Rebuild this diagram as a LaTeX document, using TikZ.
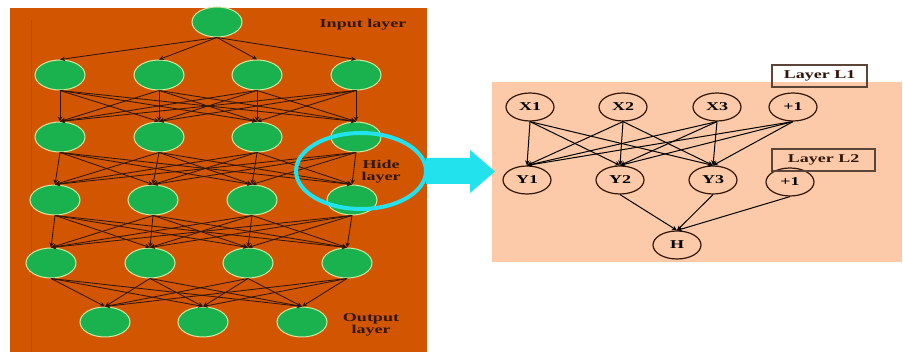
\documentclass[tikz,border=0pt]{standalone}
\usepackage{fontspec}
\setmainfont{Liberation Serif}
\usetikzlibrary{shapes.geometric,arrows.meta}
\definecolor{burnt}{RGB}{210,86,2}
\definecolor{leaf}{RGB}{26,178,78}
\definecolor{pale}{RGB}{210,232,160}
\definecolor{peach}{RGB}{252,202,168}
\definecolor{aqua}{RGB}{34,226,238}
\definecolor{ink}{RGB}{50,22,8}
\newcommand\wide[1]{\scalebox{1.5}[1]{#1}}
\tikzset{
  gnode/.style={ellipse,fill=leaf,draw=pale,line width=1pt,minimum width=50pt,minimum height=30pt,inner sep=0pt},
  wnode/.style={ellipse,draw=ink,line width=1.2pt,minimum width=48pt,minimum height=28pt,inner sep=0pt,font=\bfseries\fontsize{12}{13}\selectfont},
  lbl/.style={font=\bfseries\fontsize{12}{13}\selectfont,text=ink,align=center,inner sep=0pt},
  link/.style={draw=ink,line width=0.85pt,-{Stealth[length=5pt,width=4.5pt]}},
  boxlbl/.style={draw=ink!80,line width=1.2pt,font=\bfseries\fontsize{12}{13}\selectfont,text=ink,inner sep=0pt,minimum height=22pt}
}
\begin{document}
\begin{tikzpicture}[x=1pt,y=-1pt]
\useasboundingbox (0,0) rectangle (903,352);
% panels
\fill[burnt] (10,8) rectangle (427,352);
\draw[burnt!88!black,line width=0.6pt] (31,20) -- (31,352);
\fill[peach] (492,82) rectangle (902,262);
% left network
\node[gnode] (a0) at (217,22) {};
\foreach \x [count=\i] in {60,159,257,356} \node[gnode] (b\i) at (\x,75) {};
\foreach \x [count=\i] in {60,159,257,356} \node[gnode] (c\i) at (\x,137) {};
\foreach \x [count=\i] in {55,153,252,352} \node[gnode] (d\i) at (\x,200) {};
\foreach \x [count=\i] in {51,150,248,347} \node[gnode] (e\i) at (\x,263) {};
\foreach \x [count=\i] in {105,203,302} \node[gnode] (f\i) at (\x,322) {};
\foreach \j in {1,...,4} \draw[link] (a0.south) -- (b\j.north);
\foreach \i in {1,...,4} \foreach \j in {1,...,4} {
  \draw[link] (b\i.south) -- (c\j.north);
  \draw[link] (c\i.south) -- (d\j.north);
  \draw[link] (d\i.south) -- (e\j.north);
}
\foreach \i in {1,...,4} \foreach \j in {1,...,3} \draw[link] (e\i.south) -- (f\j.north);
% labels
\node[lbl] (tin) at (363,25) {\wide{Input layer}};
\node[lbl] (thide) at (381,172) {\wide{Hide}\\[-1pt]\wide{layer}};
\node[lbl] (tout) at (371,325) {\wide{Output}\\[-1pt]\wide{layer}};
% highlight
\node[ellipse,draw=aqua,line width=4pt,minimum width=130pt,minimum height=76pt,inner sep=0pt] (ring) at (361,171) {};
\fill[aqua] (426,158) -- (470,158) -- (470,150) -- (495,171.5) -- (470,193) -- (470,184) -- (426,184) -- cycle;
% right network
\node[wnode] (x1) at (530,107) {\wide{X1}};
\node[wnode] (x2) at (623,107) {\wide{X2}};
\node[wnode] (x3) at (717,107) {\wide{X3}};
\node[wnode] (x4) at (793,107) {\wide{+1}};
\node[wnode] (y1) at (527,180) {\wide{Y1}};
\node[wnode] (y2) at (620,180) {\wide{Y2}};
\node[wnode] (y3) at (713,180) {\wide{Y3}};
\node[wnode] (y4) at (790,182) {\wide{+1}};
\node[wnode] (h) at (677,245) {\wide{H}};
\foreach \i in {1,...,4} \foreach \j in {1,...,3} \draw[link,draw=black,line width=1pt] (x\i.south) -- (y\j.north);
\foreach \i in {2,3,4} \draw[link,draw=black,line width=1pt] (y\i.south) -- (h.north);
\node[boxlbl,minimum width=95pt] (l1) at (819.5,76) {\wide{Layer L1}};
\node[boxlbl,minimum width=103pt] (l2) at (823.5,160) {\wide{Layer L2}};
\end{tikzpicture}
\end{document}
